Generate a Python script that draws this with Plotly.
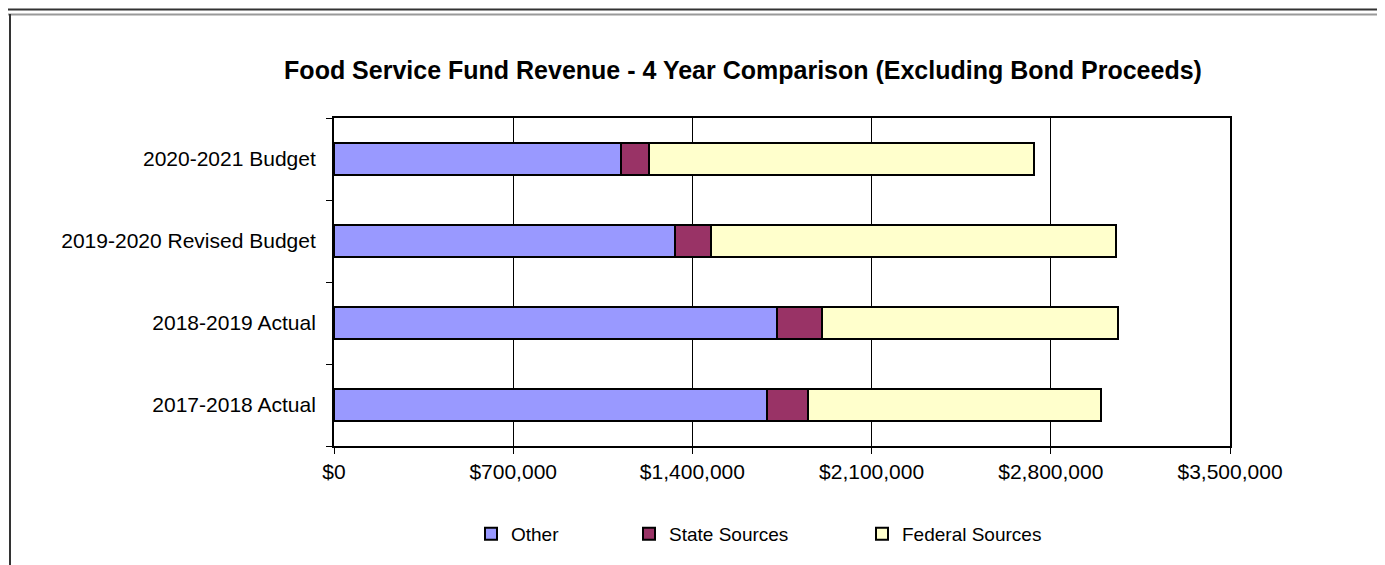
import plotly.graph_objects as go

categories = ["2017-2018 Actual", "2018-2019 Actual", "2019-2020 Revised Budget", "2020-2021 Budget"]
other = [1690000, 1732000, 1332000, 1122000]
state = [160000, 174000, 140000, 110000]
federal = [1145000, 1155000, 1582000, 1501000]
series_names = ["Other", "State Sources", "Federal Sources"]
colors = ["#9999FF", "#993366", "#FFFFCC"]
x_ticks = [0, 700000, 1400000, 2100000, 2800000, 3500000]
x_labels = ["$0", "$700,000", "$1,400,000", "$2,100,000", "$2,800,000", "$3,500,000"]

W, H = 1385, 565
L, R, T, B = 326, 163, 110, 127
pw, ph = W - L - R, H - T - B

def px_x(px):
    return (px - L) / pw

def px_y(py):
    return 1 - (py - T) / ph

fig = go.Figure()
legend_ids = ["legend", "legend2", "legend3"]
for name, vals, col, lg in zip(series_names, [other, state, federal], colors, legend_ids):
    fig.add_trace(go.Bar(
        y=categories, x=vals, name=name, orientation="h",
        marker=dict(color=col, line=dict(color="black", width=2)),
        legend=lg, showlegend=True,
    ))

tick_font = dict(family="Liberation Sans, Arial", size=21, color="black")
leg_font = dict(family="Liberation Sans, Arial", size=19, color="black")
legend_pos = [463, 621, 854]
leg_common = dict(orientation="h", yanchor="middle", xanchor="left", font=leg_font,
                  bgcolor="rgba(0,0,0,0)", borderwidth=0)
fig.update_layout(
    width=W, height=H,
    margin=dict(l=L, r=R, t=T, b=B, pad=0),
    paper_bgcolor="white", plot_bgcolor="white",
    barmode="stack", bargap=0.6,
    showlegend=True,
    font=tick_font,
    title=dict(text="<b>Food Service Fund Revenue - 4 Year Comparison (Excluding Bond Proceeds)</b>",
               x=735 / W, xanchor="center", y=1 - 62 / H, yanchor="middle",
               font=dict(family="Liberation Sans, Arial", size=25, color="black")),
    xaxis=dict(range=[0, 3500000], tickvals=x_ticks, ticktext=x_labels,
               showgrid=True, gridcolor="black", gridwidth=1,
               showline=True, linecolor="black", linewidth=2, mirror=True,
               ticks="outside", ticklen=6, tickcolor="black", zeroline=False,
               tickfont=tick_font, fixedrange=True),
    yaxis=dict(type="category", categoryorder="array", categoryarray=categories,
               showline=True, linecolor="black", linewidth=2, mirror=True,
               ticks="outside", ticklen=6, tickcolor="black", tickson="boundaries",
               showgrid=False, tickfont=tick_font, ticklabelstandoff=12, fixedrange=True),
    legend=dict(x=px_x(legend_pos[0]), y=px_y(526), **leg_common),
    legend2=dict(x=px_x(legend_pos[1]), y=px_y(526), **leg_common),
    legend3=dict(x=px_x(legend_pos[2]), y=px_y(526), **leg_common),
    shapes=[
        dict(type="line", xref="paper", yref="paper", x0=px_x(0), x1=px_x(W), y0=px_y(1.5), y1=px_y(1.5),
             line=dict(color="#333333", width=2)),
        dict(type="line", xref="paper", yref="paper", x0=px_x(0), x1=px_x(W), y0=px_y(6.5), y1=px_y(6.5),
             line=dict(color="#999999", width=2)),
        dict(type="line", xref="paper", yref="paper", x0=px_x(2), x1=px_x(2), y0=px_y(6), y1=px_y(H),
             line=dict(color="#333333", width=2)),
        dict(type="line", xref="paper", yref="paper", x0=px_x(1382), x1=px_x(1382), y0=px_y(6), y1=px_y(H),
             line=dict(color="black", width=2)),
    ],
)

fig.write_html("out.html")
